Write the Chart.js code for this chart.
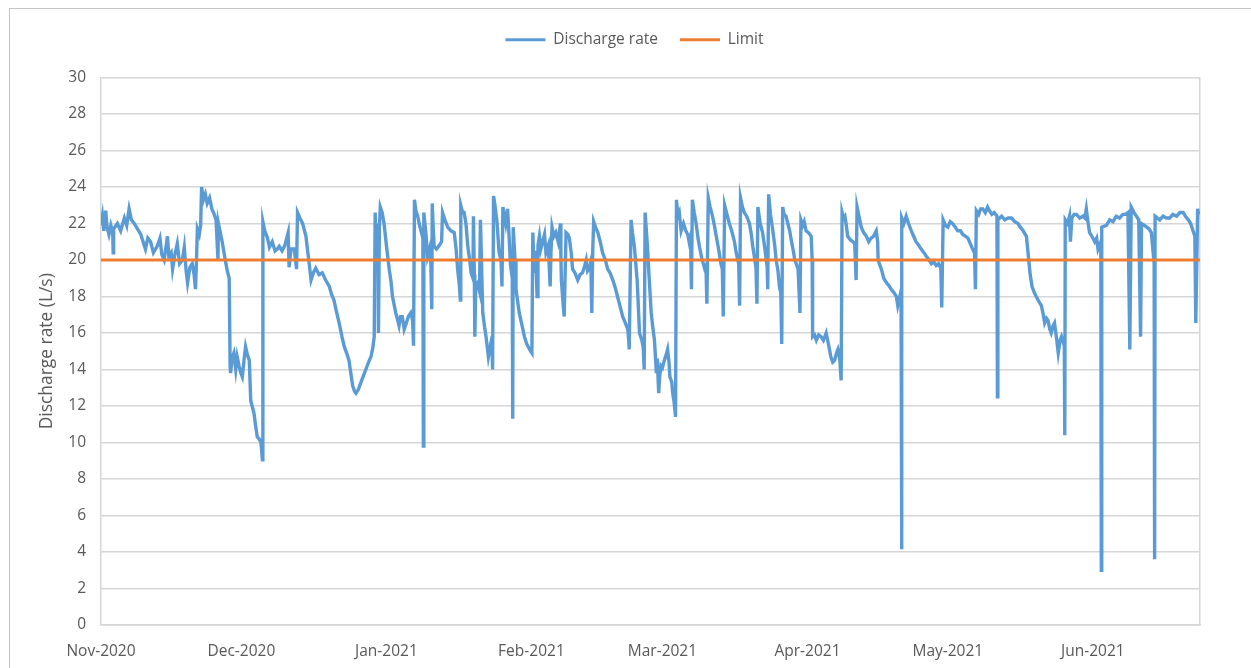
<!DOCTYPE html>
<html>
<head>
<meta charset="utf-8">
<title>Discharge rate</title>
<script src="https://cdn.jsdelivr.net/npm/chart.js@4.4.1/dist/chart.umd.min.js"></script>
<style>
    body { margin: 0; background: #fff; overflow: hidden; }
    #frame { position: absolute; left: 9px; top: 8px; width: 1300px; height: 700px; border: 1px solid #c4c4c4; }
    #myChart { position: absolute; left: 0; top: 0; }
</style>
</head>
<body>
<div id="frame"></div>
<canvas id="myChart" width="1251" height="668"></canvas>
<script>
// Data (x = days since 1 Nov 2020)

var monthLabels = ["Nov-2020", "Dec-2020", "Jan-2021", "Feb-2021", "Mar-2021", "Apr-2021", "May-2021", "Jun-2021"];
var lastDay = 234.9;
var limit = 20;

var days = [
    0, 0.3, 0.6, 1.0, 1.3, 1.7, 2.1, 2.5, 2.6, 2.7,
    3.5, 4.2, 5.0, 5.5, 6.0, 6.5, 7.1, 7.8, 8.5, 9.0,
    9.5, 10.0, 10.6, 11.2, 12.0, 12.6, 13.0, 13.5, 14.0, 14.2,
    14.5, 15.0, 15.3, 15.8, 16.3, 16.8, 17.4, 17.8, 18.2, 18.5,
    19.0, 19.5, 19.9, 20.2, 20.4, 20.6, 21.0, 21.3, 21.5, 21.9,
    22.3, 22.7, 23.2, 23.7, 24.2, 24.6, 25.0, 25.1, 25.5, 25.9,
    26.3, 26.7, 27.0, 27.4, 27.6, 27.7, 28.0, 28.4, 28.8, 29.1,
    29.5, 29.9, 30.2, 30.6, 30.9, 31.3, 31.7, 32.0, 32.3, 32.7,
    33.0, 33.4, 33.8, 34.2, 34.5, 34.6, 35.0, 35.6, 36.0, 36.6,
    37.2, 37.7, 38.1, 38.7, 39.3, 40.0, 40.2, 40.6, 41.3, 41.8,
    42.0, 42.5, 43.1, 43.8, 44.5, 44.9, 45.4, 45.9, 46.6, 47.3,
    48.0, 48.8, 49.3, 49.8, 50.3, 50.9, 51.5, 52.0, 52.5, 53.0,
    53.4, 53.8, 54.2, 54.5, 55.0, 55.5, 56.0, 56.6, 57.2, 57.7,
    58.1, 58.4, 58.6, 58.8, 58.9, 59.2, 59.3, 59.5, 59.7, 60.1,
    60.5, 61.0, 61.6, 62.0, 62.3, 63.0, 63.3, 63.7, 64.0, 64.4,
    64.8, 65.2, 65.7, 66.2, 66.6, 66.8, 67.0, 67.3, 67.7, 68.0,
    68.4, 68.8, 68.9, 69.0, 69.5, 69.8, 70.2, 70.5, 70.7, 70.8,
    71.0, 71.2, 71.7, 72.3, 72.8, 73.0, 73.5, 74.1, 74.8, 75.5,
    75.9, 76.2, 76.6, 76.8, 76.9, 77.3, 77.6, 78.0, 78.4, 78.8,
    79.1, 79.5, 79.6, 79.8, 79.9, 80.1, 80.5, 80.9, 81.1, 81.3,
    81.6, 82.0, 82.3, 82.8, 83.3, 83.6, 83.7, 83.9, 84.2, 84.6,
    85.1, 85.5, 85.7, 85.9, 86.5, 86.9, 87.2, 87.5, 87.9, 88.0,
    88.1, 88.5, 88.7, 89.4, 90.0, 90.5, 91.0, 91.6, 92.1, 92.3,
    92.6, 92.9, 93.2, 93.4, 93.7, 94.0, 94.4, 94.8, 95.1, 95.6,
    96.0, 96.2, 96.4, 96.8, 97.2, 97.7, 98.2, 98.3, 98.4, 98.8,
    99.0, 99.4, 99.8, 100.1, 100.5, 100.8, 101.3, 101.9, 102.4, 102.9,
    103.3, 103.7, 104.0, 104.4, 104.7, 104.9, 105.1, 105.3, 105.7, 106.2,
    106.7, 107.2, 107.8, 108.3, 108.8, 109.4, 109.9, 110.4, 111.0, 111.5,
    112.0, 112.6, 112.8, 112.9, 113.3, 113.6, 114.0, 114.3, 114.6, 115.1,
    115.6, 115.9, 116.1, 116.3, 116.8, 117.1, 117.4, 117.6, 117.9, 118.3,
    118.7, 118.9, 119.2, 119.4, 119.7, 120.0, 120.4, 120.8, 121.1, 121.4,
    121.6, 122.0, 122.2, 122.5, 122.8, 123.0, 123.3, 123.6, 124.0, 124.5,
    125.0, 125.4, 125.7, 126.0, 126.2, 126.4, 126.8, 127.2, 127.6, 127.9,
    128.4, 129.0, 129.3, 129.5, 129.8, 130.2, 130.7, 131.1, 131.5, 132.0,
    132.5, 132.8, 133.0, 133.3, 133.8, 134.3, 134.8, 135.4, 135.7, 136.1,
    136.3, 136.5, 136.7, 137.1, 137.5, 138.0, 138.6, 139.0, 139.3, 139.7,
    140.0, 140.2, 140.4, 140.9, 141.4, 141.8, 142.2, 142.4, 142.5, 142.7,
    143.1, 143.6, 144.0, 144.3, 144.7, 145.0, 145.3, 145.5, 145.7, 146.0,
    146.4, 146.8, 147.2, 147.6, 147.9, 148.3, 148.6, 149.0, 149.4, 149.6,
    150.0, 150.3, 150.7, 151.2, 151.8, 152.0, 152.1, 152.5, 152.9, 153.4,
    153.9, 154.4, 155.0, 155.4, 155.7, 156.0, 156.4, 156.8, 157.2, 157.5,
    157.9, 158.2, 158.4, 158.7, 159.0, 159.3, 159.6, 160.2, 160.7, 161.1,
    161.4, 161.6, 162.0, 162.5, 163.0, 163.6, 164.1, 164.6, 165.1, 165.7,
    166.0, 166.1, 166.5, 166.8, 167.3, 167.9, 168.4, 168.9, 169.5, 170.0,
    170.3, 171.0, 171.1, 171.2, 171.6, 172.1, 172.6, 173.2, 173.7, 174.2,
    174.8, 175.3, 175.9, 176.4, 177.0, 177.5, 178.0, 178.5, 179.0, 179.5,
    179.7, 180.0, 180.5, 181.0, 181.5, 182.0, 182.6, 183.1, 183.7, 184.2,
    184.8, 185.3, 185.8, 186.3, 186.7, 186.9, 187.1, 187.6, 188.0, 188.5,
    189.0, 189.5, 189.9, 190.4, 190.9, 191.5, 191.6, 191.7, 192.5, 193.2,
    193.9, 194.6, 195.3, 196.0, 196.5, 197.1, 197.8, 198.3, 198.6, 199.0,
    199.5, 199.9, 200.5, 201.0, 201.4, 201.7, 202.1, 202.4, 202.8, 203.1,
    203.5, 203.8, 204.2, 204.6, 205.0, 205.3, 205.9, 206.0, 206.1, 206.6,
    207.0, 207.2, 207.5, 208.0, 208.5, 209.2, 209.9, 210.3, 210.6, 211.0,
    211.3, 211.8, 212.4, 212.8, 213.1, 213.7, 213.8, 213.9, 214.9, 215.6,
    216.3, 217.0, 217.7, 218.4, 219.0, 219.5, 219.9, 220.2, 220.8, 221.3,
    221.8, 222.2, 222.4, 223.0, 223.5, 224.0, 224.5, 225.1, 225.2, 225.3,
    226.3, 227.0, 227.7, 228.4, 229.1, 229.9, 230.6, 231.3, 231.8, 232.4,
    232.9, 233.4, 233.8, 234.0, 234.4, 234.6
];

var rate = [
    21.9, 22.4, 21.6, 22.7, 21.8, 21.4, 21.9, 21.5, 20.4, 21.7,
    22.0, 21.6, 22.3, 21.9, 22.8, 22.2, 22.0, 21.7, 21.4, 21.0,
    20.6, 21.2, 21.0, 20.4, 20.75, 21.2, 20.3, 20.0, 20.9, 21.3,
    20.2, 20.4, 19.5, 20.3, 20.9, 19.8, 20.0, 20.7, 19.4, 18.75,
    19.6, 19.8, 19.2, 18.4, 19.9, 21.7, 21.4, 21.9, 24.0, 23.3,
    23.6, 23.1, 23.4, 22.8, 22.5, 22.2, 20.0, 22.0, 21.5, 21.0,
    20.4, 19.8, 19.4, 19.0, 14.2, 13.8, 14.6, 14.9, 14.0, 14.7,
    14.2, 13.8, 13.6, 14.6, 15.25, 14.8, 14.5, 12.3, 12.0, 11.6,
    11.0, 10.3, 10.2, 10.0, 9.05, 22.1, 21.6, 21.2, 20.7, 21.0,
    20.5, 20.6, 20.75, 20.5, 20.8, 21.5, 19.6, 20.6, 20.6, 19.5,
    22.6, 22.3, 22.0, 21.3, 19.8, 18.9, 19.3, 19.55, 19.2, 19.3,
    18.9, 18.55, 18.1, 17.8, 17.2, 16.55, 15.8, 15.25, 14.9, 14.5,
    13.8, 13.1, 12.8, 12.7, 12.9, 13.25, 13.6, 14.0, 14.4, 14.7,
    15.2, 15.8, 22.6, 20.0, 22.0, 21.5, 16.0, 21.8, 22.9, 22.6,
    22.0, 20.8, 19.5, 18.8, 18.0, 17.1, 16.8, 16.4, 16.9, 16.9,
    16.2, 16.5, 16.9, 17.1, 16.7, 15.3, 23.3, 22.7, 22.4, 22.0,
    21.6, 21.2, 9.8, 22.6, 21.3, 20.2, 20.6, 19.8, 17.3, 23.1,
    21.8, 20.75, 20.6, 20.8, 21.0, 22.6, 22.2, 21.8, 21.6, 21.5,
    20.6, 19.55, 18.6, 17.8, 23.0, 22.6, 22.6, 22.0, 20.75, 20.0,
    19.3, 19.0, 22.4, 19.2, 15.8, 18.6, 18.75, 18.3, 22.2, 20.2,
    17.1, 16.3, 15.8, 14.7, 15.4, 15.0, 14.0, 23.5, 23.0, 22.2,
    20.4, 20.0, 18.55, 22.9, 22.0, 22.8, 21.4, 19.8, 19.0, 11.3,
    21.8, 20.0, 18.4, 17.1, 16.4, 15.8, 15.4, 15.1, 14.9, 21.5,
    19.3, 20.5, 18.0, 20.8, 21.3, 20.6, 21.0, 21.4, 20.4, 20.8,
    18.55, 20.6, 21.8, 21.3, 21.5, 21.0, 22.0, 20.2, 18.9, 17.5,
    16.9, 21.5, 21.4, 21.2, 20.4, 19.5, 19.3, 18.9, 19.2, 19.3,
    19.6, 20.0, 19.4, 19.55, 19.9, 17.1, 20.5, 22.1, 21.8, 21.5,
    21.0, 20.4, 20.0, 19.5, 19.3, 18.9, 18.5, 18.0, 17.4, 16.9,
    16.6, 16.2, 15.6, 15.1, 22.2, 21.5, 20.75, 19.8, 18.9, 16.0,
    15.6, 15.2, 14.0, 22.6, 20.75, 19.3, 18.0, 17.1, 16.4, 15.6,
    13.8, 14.6, 12.7, 13.6, 14.2, 14.1, 14.5, 14.8, 15.1, 14.4,
    13.6, 13.3, 12.7, 12.2, 11.4, 23.3, 22.4, 22.6, 21.6, 22.0,
    21.6, 21.4, 21.0, 21.3, 18.4, 23.3, 22.6, 22.0, 21.2, 20.75,
    20.1, 19.55, 19.7, 17.6, 23.4, 22.9, 22.4, 21.9, 21.3, 20.6,
    19.8, 19.5, 16.9, 23.0, 22.5, 22.0, 21.6, 21.0, 20.5, 20.0,
    19.8, 17.5, 23.4, 22.9, 22.6, 22.4, 22.0, 21.4, 20.75, 20.1,
    19.55, 17.6, 22.9, 22.0, 21.5, 20.8, 20.0, 19.6, 18.4, 23.6,
    22.5, 21.6, 20.8, 20.0, 19.4, 18.55, 18.2, 15.4, 22.9, 22.5,
    22.4, 22.0, 21.6, 21.0, 20.6, 20.0, 19.8, 19.5, 17.1, 22.2,
    21.9, 22.1, 21.6, 21.5, 21.3, 20.0, 15.8, 15.9, 15.6, 15.9,
    15.8, 15.6, 16.0, 15.5, 15.1, 14.7, 14.4, 14.5, 14.9, 15.1,
    14.6, 13.4, 22.6, 22.3, 22.4, 21.9, 21.3, 21.1, 21.0, 20.9,
    18.9, 22.9, 22.4, 21.8, 21.5, 21.3, 21.0, 21.2, 21.3, 21.6,
    21.0, 20.0, 19.7, 19.5, 19.0, 18.75, 18.6, 18.4, 18.2, 18.0,
    17.5, 18.3, 4.15, 22.3, 22.0, 22.4, 22.0, 21.6, 21.3, 21.0,
    20.8, 20.6, 20.4, 20.2, 20.0, 19.8, 19.9, 19.7, 19.8, 19.55,
    17.4, 22.2, 21.9, 21.8, 22.1, 22.0, 21.8, 21.6, 21.6, 21.4,
    21.3, 21.2, 20.9, 20.6, 20.4, 18.4, 22.7, 22.5, 22.8, 22.8,
    22.6, 22.9, 22.7, 22.5, 22.6, 22.4, 12.5, 22.2, 22.4, 22.2,
    22.3, 22.3, 22.1, 22.0, 21.8, 21.6, 21.3, 20.0, 19.2, 18.55,
    18.2, 18.0, 17.7, 17.5, 17.0, 16.55, 16.8, 16.7, 16.2, 16.0,
    16.4, 16.55, 15.8, 14.9, 15.6, 15.8, 15.3, 10.4, 22.2, 22.0,
    22.4, 21.0, 22.3, 22.5, 22.5, 22.3, 22.4, 22.3, 22.8, 22.0,
    21.5, 21.3, 21.0, 21.2, 20.6, 21.0, 3.0, 21.8, 21.9, 22.2,
    22.1, 22.4, 22.3, 22.5, 22.5, 22.6, 15.1, 22.9, 22.6, 22.4,
    22.2, 15.8, 22.0, 21.9, 21.8, 21.7, 21.5, 19.8, 3.6, 22.4,
    22.2, 22.4, 22.3, 22.3, 22.5, 22.4, 22.6, 22.6, 22.4, 22.2,
    22.0, 21.6, 21.3, 16.55, 22.8, 22.5
];

// month starts as day offsets
var start = Date.UTC(2020, 10, 1);
var monthStarts = monthLabels.map(function (m, i) {
    return (Date.UTC(2020, 10 + i, 1) - start) / 864e5;
});

var gridColor = '#d6d6d6';
var textColor = '#595959';
var font = { family: "'Open Sans', sans-serif", size: 15.5 };

// extra room under the legend
var legendGap = {
    id: 'legendGap',
    beforeInit: function (chart) {
        var fit = chart.legend.fit;
        chart.legend.fit = function () {
            fit.bind(chart.legend)();
            this.height += 20;
        };
    }
};

// Graph

var ctx = document.getElementById('myChart').getContext('2d');
var chart = new Chart(ctx, {
    type: 'line',
    data: {
        datasets: [{
                label: "Discharge rate",
                data: days.map(function (d, i) { return { x: d, y: rate[i] }; }),
                borderColor: '#5B9BD5',
                backgroundColor: '#5B9BD5',
                borderWidth: 3.4,
                pointRadius: 0,
                tension: 0,
                order: 1,
            },
            {
                label: "Limit",
                data: [{ x: 0, y: limit }, { x: lastDay, y: limit }],
                borderColor: '#ED7D31',
                backgroundColor: '#ED7D31',
                borderWidth: 3,
                pointRadius: 0,
                order: 0,
            }
        ]
    },
    plugins: [legendGap],
    options: {
        responsive: false,
        animation: false,
        layout: { padding: { left: 18, right: 0, top: 10, bottom: 0 } },
        plugins: {
            tooltip: { enabled: false },
            legend: {
                position: 'top',
                labels: {
                    boxWidth: 40,
                    boxHeight: 3,
                    padding: 22,
                    color: textColor,
                    font: font,
                    sort: function (a, b) { return a.datasetIndex - b.datasetIndex; },
                    generateLabels: function (chart) {
                        var items = Chart.defaults.plugins.legend.labels.generateLabels(chart);
                        items.forEach(function (it) { it.lineWidth = 0; });
                        return items;
                    }
                }
            }
        },
        scales: {
            x: {
                type: 'linear',
                min: 0,
                max: lastDay,
                grid: { display: false },
                border: { display: true, color: gridColor, width: 1.5 },
                afterBuildTicks: function (scale) {
                    scale.ticks = monthStarts.map(function (v) { return { value: v }; });
                },
                afterFit: function (scale) { scale.height = 43; },
                ticks: {
                    autoSkip: false,
                    maxRotation: 0,
                    padding: 9,
                    color: textColor,
                    font: font,
                    callback: function (v, i) { return monthLabels[i]; }
                }
            },
            y: {
                min: 0,
                max: 30,
                afterFit: function (scale) { scale.width = 83; },
                grid: { color: gridColor, lineWidth: 1.5, drawTicks: false },
                border: { display: true, color: gridColor, width: 1.5 },
                ticks: { stepSize: 2, padding: 15, color: textColor, font: font },
                title: {
                    display: true,
                    text: 'Discharge rate (L/s)',
                    color: textColor,
                    font: { family: "'Open Sans', sans-serif", size: 17.4 },
                    padding: { top: 18.5, bottom: 4 }
                }
            },
            y2: {
                position: 'right',
                min: 0,
                max: 30,
                afterFit: function (scale) { scale.width = 51; },
                grid: { drawOnChartArea: false, drawTicks: false },
                border: { display: true, color: gridColor, width: 1.5 },
                ticks: { display: false }
            }
        }
    }
});
</script>
</body>
</html>
